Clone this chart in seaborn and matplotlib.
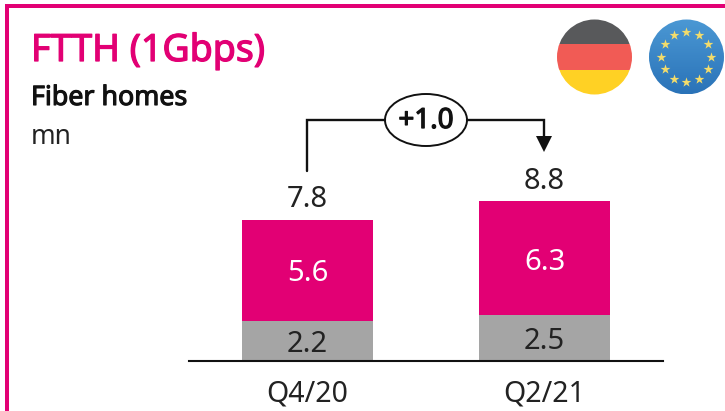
import matplotlib
matplotlib.use("Agg")
import matplotlib.pyplot as plt
import matplotlib.patheffects as pe
import numpy as np
import seaborn as sns
from matplotlib.patches import Circle, Ellipse, Polygon, Rectangle

quarters = ["Q4/20", "Q2/21"]
grey_values = [2.2, 2.5]
pink_values = [5.6, 6.3]
totals = [7.8, 8.8]
delta_label = "+1.0"

PINK = "#e20074"
GREY = "#a5a5a5"
W, H = 725, 411

sns.set_theme(style="white")
plt.rcParams["font.family"] = ["Noto Sans", "DejaVu Sans"]

fig = plt.figure(figsize=(W / 100, H / 100), dpi=100, facecolor="white")


def heavier(color, width):
    return [pe.withStroke(linewidth=width, foreground=color)]


# chart axes, placed in pixels
left, right, base, top = 189, 663, 360.5, 90
ax = fig.add_axes([left / W, 1 - base / H, (right - left) / W, (base - top) / H])
sns.barplot(x=quarters, y=grey_values, color=GREY, saturation=1, width=0.555, ax=ax, linewidth=0)
sns.barplot(x=quarters, y=pink_values, bottom=grey_values, color=PINK, saturation=1, width=0.555, ax=ax, linewidth=0)
ax.set_xlim(-0.5, 1.5)
ax.set_ylim(0, (base - top) / 18.07)
ax.set_yticks([])
ax.set_ylabel("")
for s in ("top", "left", "right"):
    ax.spines[s].set_visible(False)
ax.spines["bottom"].set_color("#111111")
ax.spines["bottom"].set_linewidth(1.5)
ax.tick_params(axis="x", length=0, pad=14, labelsize=20.5, labelcolor="#222222")
ax.patch.set_alpha(0)

for i, (g, p, t) in enumerate(zip(grey_values, pink_values, totals)):
    ax.text(i, g / 2 - 0.2, f"{g}", ha="center", va="center", fontsize=21, color="#222222")
    ax.text(i, g + p / 2 - 0.2, f"{p}", ha="center", va="center", fontsize=21, color="white")
    ax.text(i, t + 1.1, f"{t}", ha="center", va="center", fontsize=21, color="#222222")

# decoration overlay in pixel coordinates
ov = fig.add_axes([0, 0, 1, 1], zorder=5)
ov.set_xlim(0, W)
ov.set_ylim(H, 0)
ov.axis("off")
ov.patch.set_alpha(0)

ov.add_patch(Rectangle((5, 4), W - 5, 4, color=PINK, lw=0))
ov.add_patch(Rectangle((5, 4), 4, H - 4, color=PINK, lw=0))

ov.text(31, 51, "FTTH (1Gbps)", fontsize=27, color=PINK, ha="left", va="center",
        path_effects=heavier(PINK, 0.9))
ov.text(31, 98, "Fiber homes", fontsize=19.3, color="#111111", ha="left", va="center",
        path_effects=heavier("#111111", 0.8))
ov.text(31, 137, "mn", fontsize=19, color="#222222", ha="left", va="center")

# growth bracket
lw = 1.7
ov.plot([307, 307, 385], [171, 120, 120], color="#111111", lw=lw, solid_joinstyle="miter")
ov.plot([467, 544, 544], [120, 120, 138], color="#111111", lw=lw, solid_joinstyle="miter")
ov.add_patch(Polygon([[536, 136], [552, 136], [544, 152]], color="#111111", lw=0))
ov.add_patch(Ellipse((426, 120), 82, 52, fc="white", ec="#111111", lw=1.4))
ov.text(426, 121, delta_label, fontsize=20, color="#111111", ha="center", va="center",
        path_effects=heavier("#111111", 0.9))

# German flag
cx, cy, r = 594.5, 57, 37.5
clip = Circle((cx, cy), r, transform=ov.transData)
for y0, y1, c in [(19, 44, "#58595b"), (44, 70.5, "#f15b55"), (70.5, 95, "#ffd124")]:
    rect = Rectangle((cx - r, y0), 2 * r, y1 - y0, color=c, lw=0)
    ov.add_patch(rect)
    rect.set_clip_path(clip)

# EU flag
cx, cy, r = 686.5, 57, 37.5
grad = np.linspace(0, 1, 64).reshape(-1, 1)
c0, c1 = np.array([0x4b, 0x98, 0xd4]) / 255, np.array([0x2a, 0x73, 0xb8]) / 255
img = c0 + (c1 - c0) * grad[..., None]
im = ov.imshow(img, extent=(cx - r, cx + r, cy + r, cy - r), aspect="auto", zorder=2)
im.set_clip_path(Circle((cx, cy), r, transform=ov.transData))
ov.set_xlim(0, W)
ov.set_ylim(H, 0)
ang = np.deg2rad(np.arange(0, 360, 30))
ov.scatter(cx + 25 * np.sin(ang), cy - 25 * np.cos(ang), marker="*", s=55, color="#f3dc6b", lw=0, zorder=3)

fig.savefig("out.png", dpi=100)
